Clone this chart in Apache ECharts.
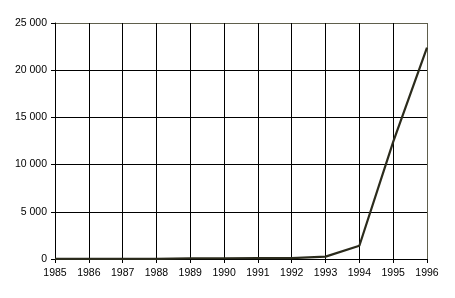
<!DOCTYPE html>
<html>
<head>
<meta charset="utf-8">
<script src="https://cdn.jsdelivr.net/npm/echarts@6/dist/echarts.min.js"></script>
<style>
html,body{margin:0;padding:0;background:#fff;}
#chart{width:455px;height:298px;}
</style>
</head>
<body>
<div id="chart"></div>
<script>
const years = ['1985','1986','1987','1988','1989','1990','1991','1992','1993','1994','1995','1996'];
const values = [10, 10, 10, 10, 80, 80, 90, 100, 250, 1400, 12400, 22400];
const yTicks = [0, 5000, 10000, 15000, 20000, 25000];

const chart = echarts.init(document.getElementById('chart'), null, {renderer: 'canvas'});
const font = '"Liberation Sans", Arial, sans-serif';
const xLineColors = years.map((y, i) => i === years.length - 1 ? '#5f5f4c' : '#000000');
const yLineColors = yTicks.map((t, i) => i === yTicks.length - 1 ? '#5f5f4c' : '#000000');

chart.setOption({
  animation: false,
  backgroundColor: '#ffffff',
  grid: {left: 55, right: 28, top: 23, bottom: 39, containLabel: false},
  xAxis: {
    type: 'category',
    data: years,
    boundaryGap: false,
    axisLine: {show: true, lineStyle: {color: '#000', width: 1}},
    axisTick: {show: true, inside: false, length: 4, alignWithLabel: true, lineStyle: {color: '#000'}},
    axisLabel: {color: '#000', fontFamily: font, fontSize: 10.5, margin: 9, interval: 0},
    splitLine: {show: true, lineStyle: {color: xLineColors, width: 1}}
  },
  yAxis: {
    type: 'value',
    min: 0,
    max: 25000,
    interval: 5000,
    axisLine: {show: true, lineStyle: {color: '#000', width: 1}},
    axisTick: {show: true, inside: false, length: 4, lineStyle: {color: '#000'}},
    axisLabel: {
      color: '#000', fontFamily: font, fontSize: 10.5, margin: 8,
      formatter: v => String(v).replace(/\B(?=(\d{3})+(?!\d))/g, ' ')
    },
    splitLine: {show: true, lineStyle: {color: yLineColors, width: 1}}
  },
  series: [{
    type: 'line',
    data: values,
    symbol: 'none',
    lineStyle: {color: '#2b2b1c', width: 2.2},
    z: 5
  }]
});
</script>
</body>
</html>
